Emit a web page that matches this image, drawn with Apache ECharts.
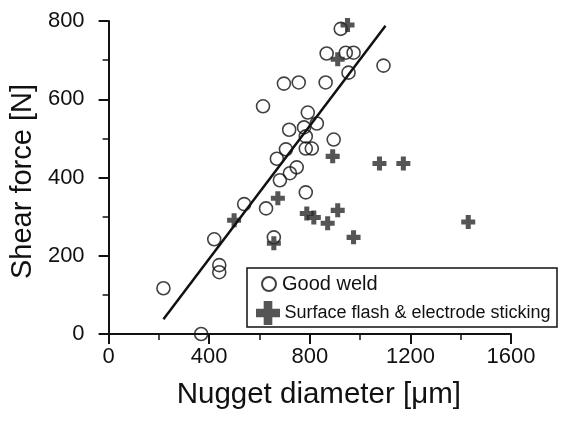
<!DOCTYPE html>
<html>
<head>
<meta charset="utf-8">
<script src="https://cdn.jsdelivr.net/npm/echarts@6/dist/echarts.min.js"></script>
<style>
  html, body { margin: 0; padding: 0; background: #fff; }
  #chart { width: 561px; height: 424px; }
</style>
</head>
<body>
<div id="chart"></div>
<script>
// Nugget diameter (µm) and shear force (N) for good welds
var goodX = [218, 368, 440, 440, 420, 539, 626, 657, 681, 721, 748, 784, 669, 705, 784, 808,
             614, 697, 756, 863, 867, 923, 943, 974, 954, 1093, 792, 828, 718, 777, 784, 895];
var goodY = [117, 0, 176, 158, 242, 332, 321, 247, 393, 411, 426, 362, 448, 472, 474, 474,
             582, 640, 643, 643, 717, 780, 719, 719, 668, 686, 566, 538, 522, 528, 505, 497];

// Welds showing surface flash and electrode sticking
var flashX = [499, 673, 657, 891, 1077, 1172, 788, 816, 871, 911, 974, 1430, 911, 950];
var flashY = [291, 347, 232, 454, 436, 436, 308, 298, 283, 316, 247, 286, 702, 790];

// Linear fit through the good welds (end points)
var fitX = [218, 1101];
var fitY = [38, 788];

var xTicks = [0, 400, 800, 1200, 1600];
var yTicks = [0, 200, 400, 600, 800];

var seriesNames = ['Good weld', 'Surface flash & electrode sticking'];

function pairs(xs, ys) {
  return xs.map(function (x, i) { return [x, ys[i]]; });
}

var FONT = '"Liberation Sans", Arial, Helvetica, sans-serif';
var INK = '#111';
var PLUS = 'path://M3.2,0H6.8V3.2H10V6.8H6.8V10H3.2V6.8H0V3.2H3.2Z';

var chart = echarts.init(document.getElementById('chart'), null, { renderer: 'canvas' });

var axisCommon = {
  axisLine: { show: true, onZero: false, lineStyle: { color: INK, width: 2 } },
  axisTick: { show: true, inside: false, length: 10, lineStyle: { color: INK, width: 2 } },
  minorTick: { show: true, splitNumber: 2, length: 6, lineStyle: { color: INK, width: 1.5 } },
  splitLine: { show: false },
  nameLocation: 'middle'
};

function plain(v) { return String(v); }

chart.setOption({
  animation: false,
  backgroundColor: '#fff',
  grid: { left: 107, top: 21, right: 50, bottom: 90, containLabel: false },
  xAxis: Object.assign({}, axisCommon, {
    type: 'value',
    min: xTicks[0], max: xTicks[xTicks.length - 1], interval: 400,
    name: 'Nugget diameter [\u03bcm]',
    nameGap: 46,
    nameTextStyle: { fontFamily: FONT, fontSize: 29.5, color: INK, padding: [0, 0, 0, 18] },
    axisLabel: { fontFamily: FONT, fontSize: 22, color: INK, margin: 12, formatter: plain }
  }),
  yAxis: Object.assign({}, axisCommon, {
    type: 'value',
    min: yTicks[0], max: yTicks[yTicks.length - 1], interval: 200,
    name: 'Shear force [N]',
    nameGap: 68,
    nameRotate: 90,
    nameTextStyle: { fontFamily: FONT, fontSize: 29, color: INK, padding: [0, 8, 0, 0] },
    axisLabel: { fontFamily: FONT, fontSize: 22, color: INK, margin: 24, formatter: plain }
  }),
  legend: [
    {
      data: [{ name: seriesNames[0], icon: 'circle' }],
      left: 261, top: 274,
      itemWidth: 14, itemHeight: 14, itemGap: 6,
      padding: 0,
      textStyle: { fontFamily: FONT, fontSize: 20, color: INK, padding: [0, 0, 0, 1] },
      selectedMode: false
    },
    {
      data: [{ name: seriesNames[1], icon: PLUS }],
      left: 256, top: 301,
      itemWidth: 25, itemHeight: 24, itemGap: 2,
      padding: 0,
      textStyle: { fontFamily: FONT, fontSize: 18, color: INK, padding: [0, 0, 0, -1] },
      selectedMode: false
    }
  ],
  graphic: [
    {
      type: 'rect',
      shape: { x: 247, y: 268, width: 310, height: 59 },
      style: { fill: 'none', stroke: INK, lineWidth: 1.5 },
      z: 10
    }
  ],
  series: [
    {
      name: seriesNames[0],
      type: 'scatter',
      symbol: 'circle',
      symbolSize: 13,
      data: pairs(goodX, goodY),
      itemStyle: { color: 'rgba(0,0,0,0)', borderColor: INK, borderWidth: 1.6 },
      z: 3
    },
    {
      name: seriesNames[1],
      type: 'scatter',
      symbol: PLUS,
      symbolSize: 14,
      data: pairs(flashX, flashY),
      itemStyle: { color: '#2a2a2a' },
      z: 4
    },
    {
      name: 'fit',
      type: 'line',
      data: pairs(fitX, fitY),
      symbol: 'none',
      lineStyle: { color: INK, width: 2.5 },
      z: 5
    }
  ]
});
</script>
</body>
</html>
